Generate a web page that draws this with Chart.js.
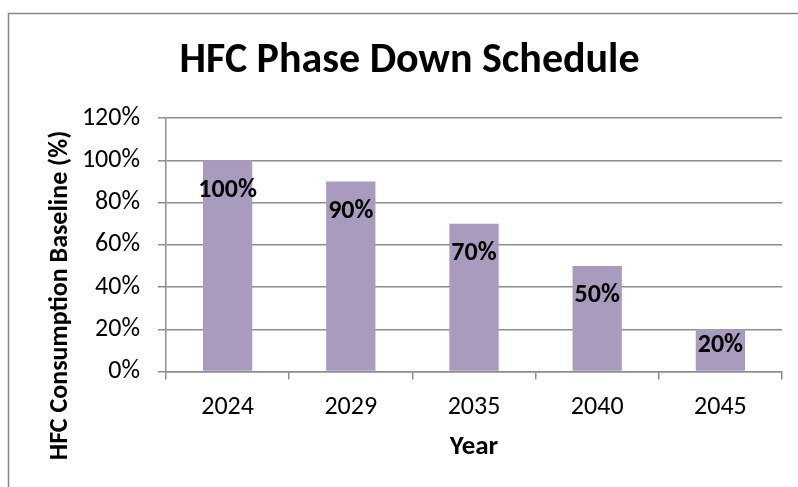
<!DOCTYPE html>
<html>
<head>
<meta charset="utf-8">
<script src="https://cdn.jsdelivr.net/npm/chart.js@4/dist/chart.umd.min.js"></script>
<style>
  html, body { margin: 0; padding: 0; background: #ffffff; overflow: hidden; }
  #wrap { position: absolute; left: 0; top: 0; width: 798px; height: 487px; }
</style>
</head>
<body>
<div id="wrap"><canvas id="c" width="798" height="487"></canvas></div>
<script>
const chartTitle = 'HFC Phase Down Schedule';
const xAxisTitle = 'Year';
const yAxisTitle = 'HFC Consumption Baseline (%)';
const years = ['2024', '2029', '2035', '2040', '2045'];
const baselinePct = [100, 90, 70, 50, 20];
const yTickValues = [0, 20, 40, 60, 80, 100, 120];

const FONT = 'Carlito, Lato, "Liberation Sans", sans-serif';
const GRID = '#8e8e8e';
const BAR = '#a99bbd';

const decorPlugin = {
  id: 'decor',
  beforeDraw(chart) {
    const ctx = chart.ctx;
    ctx.save();
    ctx.strokeStyle = '#868686';
    ctx.lineWidth = 1.5;
    ctx.beginPath();
    ctx.moveTo(8.5, 487);
    ctx.lineTo(8.5, 13.5);
    ctx.lineTo(798, 13.5);
    ctx.stroke();
    ctx.restore();
  },
  afterDraw(chart) {
    const ctx = chart.ctx;
    ctx.save();
    ctx.fillStyle = '#000';
    ctx.textAlign = 'center';
    ctx.textBaseline = 'middle';
    // Chart title
    ctx.font = 'bold 42px ' + FONT;
    ctx.fillText(chartTitle, 409.5, 61);
    // Y axis title (rotated)
    ctx.translate(59, 295.5);
    ctx.rotate(-Math.PI / 2);
    ctx.font = 'bold 26px ' + FONT;
    ctx.fillText(yAxisTitle, 0, 1);
    ctx.restore();

    // Value labels inside bars
    const meta = chart.getDatasetMeta(0);
    const base = chart.scales.y.getPixelForValue(0);
    ctx.save();
    ctx.fillStyle = '#000';
    ctx.textAlign = 'center';
    ctx.textBaseline = 'middle';
    ctx.font = 'bold 26px ' + FONT;
    meta.data.forEach((bar, i) => {
      const y = Math.min(bar.y + 30, base - 26);
      ctx.fillText(baselinePct[i] + '%', bar.x, y);
    });
    ctx.restore();
  }
};

new Chart(document.getElementById('c'), {
  type: 'bar',
  data: {
    labels: years,
    datasets: [{
      data: baselinePct,
      backgroundColor: BAR,
      borderWidth: 0,
      barPercentage: 0.4,
      categoryPercentage: 1.0
    }]
  },
  options: {
    responsive: false,
    animation: false,
    events: [],
    layout: { padding: { left: 0, right: 16, top: 118, bottom: 28 } },
    plugins: {
      legend: { display: false },
      tooltip: { enabled: false },
      title: { display: false }
    },
    scales: {
      x: {
        offset: true,
        grid: { offset: true, drawOnChartArea: false, drawTicks: true, tickLength: 8, color: GRID, lineWidth: 1.5 },
        border: { display: true, color: GRID, width: 1.5 },
        ticks: { color: '#000', font: { family: FONT, size: 26, lineHeight: 1.2 }, padding: 12, maxRotation: 0 },
        title: { display: true, text: xAxisTitle, color: '#000', font: { family: FONT, size: 27, weight: 'bold', lineHeight: '24px' }, padding: { top: 0, bottom: 0 } },
        afterFit(scale) { scale.height = 87.5; }
      },
      y: {
        min: 0,
        max: 120,
        afterBuildTicks(scale) { scale.ticks = yTickValues.map(v => ({ value: v })); },
        grid: { drawOnChartArea: true, drawTicks: true, tickLength: 8, color: GRID, lineWidth: 1.5 },
        border: { display: true, color: GRID, width: 1.5 },
        ticks: { color: '#000', font: { family: FONT, size: 26 }, padding: 18, callback: v => v + '%' },
        afterFit(scale) { scale.width = 166; }
      }
    }
  },
  plugins: [decorPlugin]
});
</script>
</body>
</html>
